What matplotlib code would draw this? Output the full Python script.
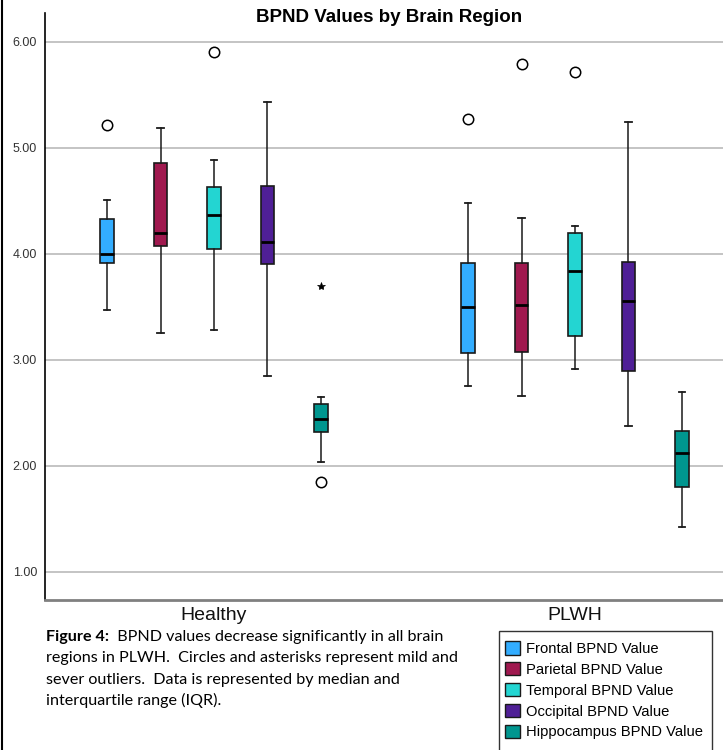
import matplotlib
matplotlib.use("Agg")
import matplotlib.pyplot as plt
from matplotlib.patches import Patch, Rectangle
from matplotlib.lines import Line2D

groups = ["Healthy", "PLWH"]
regions = ["Frontal BPND Value", "Parietal BPND Value", "Temporal BPND Value",
           "Occipital BPND Value", "Hippocampus BPND Value"]
colors = ["#33ADFF", "#A0194F", "#23D5D2", "#4F1F96", "#00968F"]

# per group, per region: whisker low, Q1, median, Q3, whisker high
healthy_whislo = [3.465, 3.254, 3.282, 2.844, 2.036]
healthy_q1     = [3.911, 4.072, 4.047, 3.906, 2.316]
healthy_med    = [3.993, 4.198, 4.368, 4.107, 2.442]
healthy_q3     = [4.324, 4.859, 4.629, 4.635, 2.580]
healthy_whishi = [4.503, 5.186, 4.888, 5.432, 2.646]
healthy_mild   = [[5.218], [], [5.904], [], [1.850]]
healthy_severe = [[], [], [], [], [3.694]]

plwh_whislo = [2.747, 2.656, 2.910, 2.379, 1.422]
plwh_q1     = [3.065, 3.071, 3.219, 2.891, 1.803]
plwh_med    = [3.496, 3.512, 3.836, 3.550, 2.124]
plwh_q3     = [3.911, 3.911, 4.198, 3.921, 2.325]
plwh_whishi = [4.478, 4.333, 4.261, 5.243, 2.693]
plwh_mild   = [[5.268], [5.788], [5.715], [], []]
plwh_severe = [[], [], [], [], []]

yticks = [1.0, 2.0, 3.0, 4.0, 5.0, 6.0]

W, H = 723, 750
fig = plt.figure(figsize=(W / 100, H / 100), dpi=100)
ax = fig.add_axes([45 / W, 1 - 600 / H, 1 - 45 / W, (600 - 13) / H])

offset = 0.148
box_w = 0.037
cap_w = 0.018

data = [
    (healthy_whislo, healthy_q1, healthy_med, healthy_q3, healthy_whishi, healthy_mild, healthy_severe),
    (plwh_whislo, plwh_q1, plwh_med, plwh_q3, plwh_whishi, plwh_mild, plwh_severe),
]

for gi, (wlo, q1, med, q3, whi, mild, severe) in enumerate(data):
    for ri in range(len(regions)):
        pos = gi + (ri - 2) * offset
        st = dict(whislo=wlo[ri], q1=q1[ri], med=med[ri], q3=q3[ri], whishi=whi[ri],
                  fliers=mild[ri], label=regions[ri])
        ax.bxp([st], positions=[pos], widths=[box_w], capwidths=[cap_w],
               patch_artist=True, showfliers=True,
               boxprops=dict(facecolor=colors[ri], edgecolor="#1a1a1a", linewidth=1.2),
               medianprops=dict(color="black", linewidth=2.0),
               whiskerprops=dict(color="#1a1a1a", linewidth=1.1),
               capprops=dict(color="#1a1a1a", linewidth=1.3),
               flierprops=dict(marker="o", markerfacecolor="none", markeredgecolor="black",
                               markersize=7.5, markeredgewidth=1.1),
               zorder=3)
        if severe[ri]:
            ax.plot([pos] * len(severe[ri]), severe[ri], linestyle="none", marker="*",
                    markersize=6, color="black", markeredgewidth=0.5, zorder=4)

ax.set_xlim(-0.468, 1.41)
ax.set_ylim(0.733, 6.27)
ax.set_yticks(yticks)
ax.set_yticklabels([f"{v:.2f}" for v in yticks], fontsize=9, color="#333333",
                   family="Liberation Sans")
ax.tick_params(axis="y", length=0, pad=5.8)
ax.set_xticks([0, 1])
ax.set_xticklabels(groups, fontsize=14, family="Liberation Sans", color="#111111")
ax.tick_params(axis="x", length=0, pad=5)
ax.grid(axis="y", color="#b4b4b4", linewidth=1.1, zorder=0)
ax.set_axisbelow(True)
for s in ["top", "right"]:
    ax.spines[s].set_visible(False)
ax.spines["left"].set_color("black")
ax.spines["left"].set_linewidth(1.2)
ax.spines["bottom"].set_color("#808080")
ax.spines["bottom"].set_linewidth(2.0)

fig.text(389 / W, 1 - 18 / H, "BPND Values by Brain Region", ha="center", va="center",
         fontsize=13.5, fontweight="bold", family="Liberation Sans")

# left border line of the image
fig.add_artist(Line2D([1.5 / W, 1.5 / W], [0, 1], color="black", linewidth=1.5,
                      transform=fig.transFigure))

# caption
cap_font = "Lato"
cap_size = 11.65
lines = [
    ("Figure 4:", "  BPND values decrease significantly in all brain"),
    ("", "regions in PLWH.  Circles and asterisks represent mild and"),
    ("", "sever outliers.  Data is represented by median and"),
    ("", "interquartile range (IQR)."),
]
fig.canvas.draw()
renderer = fig.canvas.get_renderer()
y0 = 637
for i, (b, r) in enumerate(lines):
    y = 1 - (y0 + i * 21.3) / H
    x = 46 / W
    if b:
        tb = fig.text(x, y, b, fontsize=cap_size, fontweight="bold", family=cap_font,
                      va="center", ha="left")
        bb = tb.get_window_extent(renderer=renderer)
        x = bb.x1 / W
    fig.text(x, y, r, fontsize=cap_size, family=cap_font, va="center", ha="left")

# legend box
fig.add_artist(Rectangle((499 / W, -0.05), (712 - 499) / W, (1 - 631 / H) + 0.05,
                         transform=fig.transFigure, facecolor="white",
                         edgecolor="#333333", linewidth=1.0))
handles = [Patch(facecolor=c, edgecolor="#1a1a1a", linewidth=1.0) for c in colors]
fig.legend(handles, regions, loc="upper left", bbox_to_anchor=(505 / W, 1 - 641.5 / H),
           frameon=False, prop=dict(family="Liberation Sans", size=10.6),
           handlelength=1.0, handleheight=1.0, handletextpad=0.4, labelspacing=0.42,
           borderpad=0, borderaxespad=0)

fig.savefig("out.png", dpi=100)
